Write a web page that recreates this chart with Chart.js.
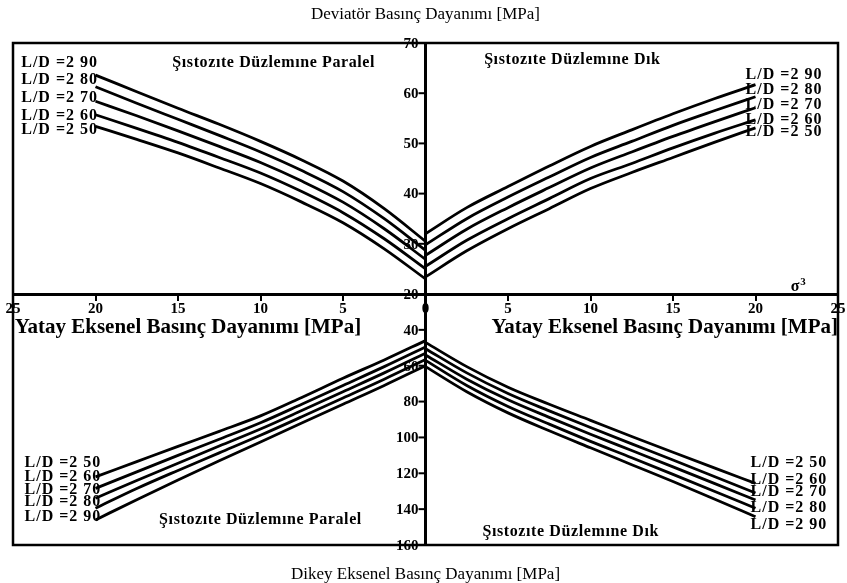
<!DOCTYPE html>
<html>
<head>
<meta charset="utf-8">
<script src="https://cdn.jsdelivr.net/npm/chart.js@4.4.1/dist/chart.umd.min.js"></script>
<style>
  body { margin: 0; background: #fff; }
  #wrap { position: relative; width: 847px; height: 583px; }
</style>
</head>
<body>
<div id="wrap"><canvas id="quadChart" width="847" height="583"></canvas></div>
<script>
// horizontal axis (sigma 3), same points for every curve
var sigma3 = [0, 2.5, 5, 7.5, 10, 12.5, 15, 17.5, 20];
var ldLabels = ['L/D =2 50', 'L/D =2 60', 'L/D =2 70', 'L/D =2 80', 'L/D =2 90'];

// rows follow ldLabels (2.50 ... 2.90)
var devParalel = [
  [23.0, 29.0, 34.2, 38.3, 42.0, 45.1, 48.1, 50.8, 53.4],
  [25.0, 31.0, 36.2, 40.4, 44.1, 47.2, 50.2, 53.0, 55.7],
  [26.9, 33.0, 38.3, 42.5, 46.2, 49.4, 52.5, 55.5, 58.4],
  [28.7, 35.0, 40.4, 44.6, 48.3, 51.6, 54.8, 58.0, 61.3],
  [30.5, 37.0, 42.5, 46.7, 50.4, 53.8, 57.0, 60.3, 63.6]
];
var devDik = [
  [23.4, 28.6, 33.0, 37.0, 41.0, 44.2, 47.2, 50.2, 53.1],
  [25.5, 30.7, 35.0, 39.0, 43.0, 46.0, 49.1, 52.0, 54.7],
  [27.7, 32.9, 37.2, 41.2, 45.1, 48.3, 51.4, 54.3, 57.1],
  [29.8, 35.0, 39.3, 43.3, 47.2, 50.4, 53.6, 56.5, 59.3],
  [32.0, 37.2, 41.4, 45.5, 49.4, 52.7, 55.9, 58.9, 61.7]
];
var dikeyParalel = [
  [46.0, 56.8, 67.0, 77.7, 88.0, 96.6, 105.0, 113.5, 122.0],
  [49.5, 60.5, 71.0, 81.5, 91.8, 101.0, 110.0, 119.2, 128.4],
  [53.0, 64.0, 74.5, 85.0, 95.3, 104.8, 114.4, 124.0, 133.9],
  [56.5, 67.5, 78.0, 88.5, 98.8, 108.6, 118.4, 128.5, 139.5],
  [60.0, 71.0, 81.5, 92.0, 102.5, 113.0, 123.7, 134.7, 146.0]
];
var dikeyDik = [
  [47.0, 60.5, 72.0, 81.5, 90.5, 99.5, 108.3, 117.0, 125.6],
  [50.5, 64.0, 75.5, 85.2, 94.5, 103.6, 112.6, 121.8, 131.0],
  [54.0, 67.5, 79.0, 88.8, 98.2, 107.3, 116.4, 125.6, 134.9],
  [57.0, 71.0, 82.7, 92.6, 102.2, 111.3, 120.6, 130.0, 139.5],
  [60.5, 74.5, 86.3, 96.3, 105.8, 115.2, 124.6, 134.3, 144.2]
];

var topTicks = [20, 30, 40, 50, 60, 70];
var bottomTicks = [40, 60, 80, 100, 120, 140, 160];

var serif = '"Liberation Serif", "Times New Roman", serif';

// where the L/D captions sit (axis units), 2.50 ... 2.90
var captionSpots = [
  {axis: 'yTop', x: -24.5, y: [52.7, 55.5, 59.0, 62.6, 66.0]},
  {axis: 'yTop', x: 19.4, y: [52.3, 54.7, 57.6, 60.6, 63.6]},
  {axis: 'yBot', x: -24.3, y: [114.3, 122.1, 129.3, 136.0, 144.4]},
  {axis: 'yBot', x: 19.7, y: [114.3, 123.7, 130.4, 139.4, 148.8]}
];
var quadTitles = [
  {text: 'Şıstozıte Düzlemıne Paralel', axis: 'yTop', x: -9.2, y: 66.0},
  {text: 'Şıstozıte Düzlemıne Dık', axis: 'yTop', x: 8.9, y: 66.6},
  {text: 'Şıstozıte Düzlemıne Paralel', axis: 'yBot', x: -10.0, y: 146},
  {text: 'Şıstozıte Düzlemıne Dık', axis: 'yBot', x: 8.8, y: 152.7}
];
var xTitle = 'Yatay Eksenel Basınç Dayanımı [MPa]';

function quadrantSets(values, side, yAxisID) {
  return values.map(function (row, k) {
    var pts = sigma3.map(function (s, i) { return {x: side * s, y: row[i]}; });
    if (side < 0) pts.reverse();
    return {
      label: ldLabels[k],
      data: pts,
      yAxisID: yAxisID,
      showLine: true,
      borderColor: '#000',
      borderWidth: 2.8,
      pointRadius: 0,
      cubicInterpolationMode: 'monotone'
    };
  });
}

var datasets = [].concat(
  quadrantSets(devParalel, -1, 'yTop'),
  quadrantSets(devDik, 1, 'yTop'),
  quadrantSets(dikeyParalel, -1, 'yBot'),
  quadrantSets(dikeyDik, 1, 'yBot')
);

// frame + the vertical axis in the middle
var centerAxis = {
  id: 'centerAxis',
  beforeDatasetsDraw: function (chart) {
    var ctx = chart.ctx, a = chart.chartArea;
    var cx = chart.scales.x.getPixelForValue(0);
    ctx.save();
    ctx.strokeStyle = '#000';
    ctx.lineWidth = 2.5;
    ctx.strokeRect(a.left, a.top, a.right - a.left, a.bottom - a.top);
    ctx.lineWidth = 3;
    ctx.beginPath();
    ctx.moveTo(cx, a.top);
    ctx.lineTo(cx, a.bottom);
    ctx.stroke();
    ctx.lineWidth = 2;
    ctx.font = 'bold 15px ' + serif;
    ctx.fillStyle = '#000';
    ctx.textAlign = 'right';
    ctx.textBaseline = 'middle';
    [['yTop', topTicks], ['yBot', bottomTicks]].forEach(function (p) {
      var sc = chart.scales[p[0]];
      p[1].forEach(function (v) {
        var py = sc.getPixelForValue(v);
        ctx.beginPath();
        ctx.moveTo(cx - 7, py);
        ctx.lineTo(cx + 1, py);
        ctx.stroke();
        ctx.fillText(String(v), cx - 7, py + 1);
      });
    });
    ctx.restore();
  }
};

var captions = {
  id: 'captions',
  afterDraw: function (chart) {
    var ctx = chart.ctx, xs = chart.scales.x;
    ctx.save();
    ctx.fillStyle = '#000';
    ctx.textBaseline = 'middle';

    ctx.font = 'bold 16px ' + serif;
    ctx.letterSpacing = '1px';
    ctx.textAlign = 'left';
    captionSpots.forEach(function (spot) {
      var ys = chart.scales[spot.axis];
      spot.y.forEach(function (v, k) {
        ctx.fillText(ldLabels[k], xs.getPixelForValue(spot.x), ys.getPixelForValue(v));
      });
    });

    ctx.font = 'bold 16px ' + serif;
    ctx.letterSpacing = '0.6px';
    ctx.textAlign = 'center';
    quadTitles.forEach(function (t) {
      ctx.fillText(t.text, xs.getPixelForValue(t.x), chart.scales[t.axis].getPixelForValue(t.y));
    });

    ctx.letterSpacing = '0px';
    ctx.font = 'bold 21px ' + serif;
    var ty = chart.scales.yBot.getPixelForValue(39);
    ctx.fillText(xTitle, xs.getPixelForValue(-14.4), ty);
    ctx.fillText(xTitle, xs.getPixelForValue(14.5), ty);

    // sigma 3 mark at the end of the upper axis
    var sx = xs.getPixelForValue(22.4), sy = chart.scales.yTop.getPixelForValue(21.4);
    ctx.font = 'bold 16px ' + serif;
    ctx.fillText('σ', sx, sy);
    ctx.font = 'bold 11px ' + serif;
    ctx.fillText('3', sx + 8, sy - 5);
    ctx.restore();
  }
};

var ctx = document.getElementById('quadChart').getContext('2d');
var quadChart = new Chart(ctx, {
  type: 'scatter',
  data: {datasets: datasets},
  options: {
    responsive: false,
    animation: false,
    devicePixelRatio: 1,
    layout: {padding: {left: 13, right: 9, top: 0, bottom: 0}},
    plugins: {
      legend: {display: false},
      tooltip: {enabled: false},
      title: {
        display: true,
        text: 'Deviatör Basınç Dayanımı [MPa]',
        color: '#000',
        font: {family: serif, size: 17, weight: 'normal', lineHeight: 1},
        padding: {top: 6, bottom: 20}
      },
      subtitle: {
        display: true,
        position: 'bottom',
        text: 'Dikey Eksenel Basınç Dayanımı [MPa]',
        color: '#000',
        font: {family: serif, size: 17, weight: 'normal', lineHeight: 1},
        padding: {top: 21, bottom: 0}
      }
    },
    scales: {
      x: {
        type: 'linear',
        min: -25,
        max: 25,
        position: {yTop: 20},
        grid: {drawOnChartArea: false, drawTicks: true, tickLength: 5, color: '#000', lineWidth: 2},
        border: {display: true, color: '#000', width: 3},
        ticks: {
          stepSize: 5,
          padding: 1,
          color: '#000',
          maxRotation: 0,
          font: {family: serif, size: 15, weight: 'bold'},
          callback: function (v) { return Math.abs(v); }
        }
      },
      yBot: {
        type: 'linear',
        min: 20,
        max: 160,
        reverse: true,
        position: 'left',
        stack: 'quad',
        stackWeight: 1,
        display: false
      },
      yTop: {
        type: 'linear',
        min: 20,
        max: 70,
        position: 'left',
        stack: 'quad',
        stackWeight: 1,
        display: false
      }
    }
  },
  plugins: [centerAxis, captions]
});
</script>
</body>
</html>
